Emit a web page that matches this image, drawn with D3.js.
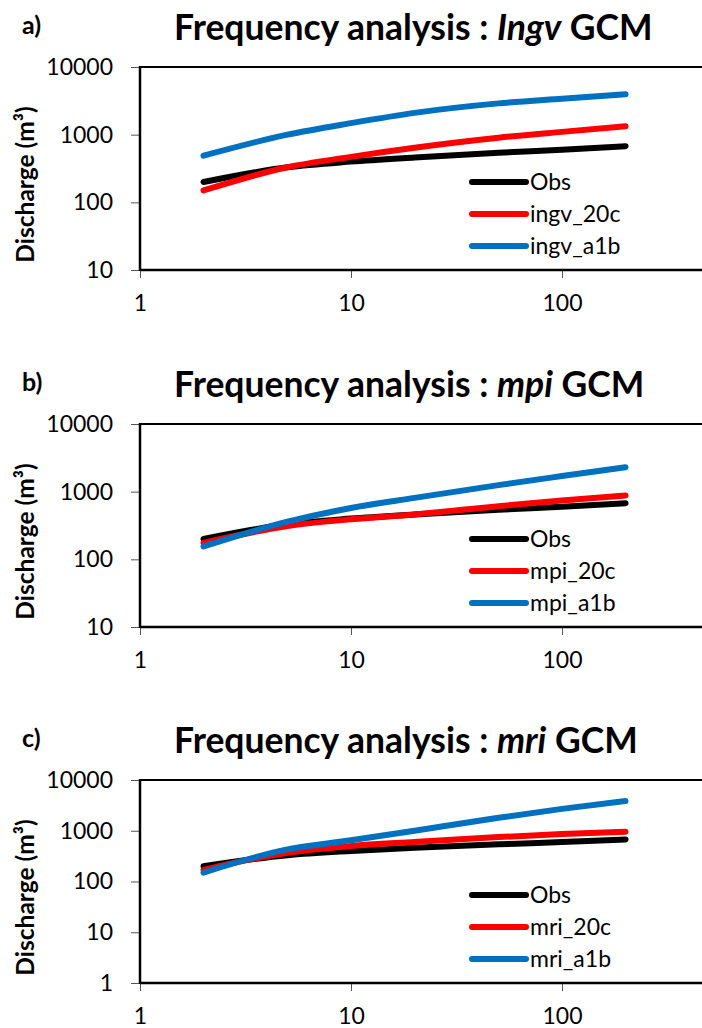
<!DOCTYPE html>
<html>
<head>
<meta charset="utf-8">
<script src="https://cdn.jsdelivr.net/npm/d3@7"></script>
<style>
  body { margin: 0; background: #fff; }
  svg { display: block; font-family: Lato, "Open Sans", sans-serif; }
</style>
</head>
<body>
<svg id="chart" width="702" height="1028"></svg>
<script>
// return periods (years)
var returnPeriods = [2, 5, 10, 20, 50, 100, 200];
var xTicks = [1, 10, 100];

// observed discharge, same in every panel
var obs = [200, 330, 400, 460, 540, 600, 675];

var ingv20c = [150, 330, 470, 640, 900, 1100, 1330];
var ingvA1b = [490, 1000, 1480, 2100, 2900, 3400, 3950];

var mpi20c = [175, 310, 390, 460, 610, 740, 880];
var mpiA1b = [155, 360, 575, 810, 1250, 1700, 2300];

var mri20c = [170, 370, 500, 600, 750, 860, 960];
var mriA1b = [150, 430, 650, 1000, 1800, 2700, 3850];

var panelLetters = ["a)", "b)", "c)"];
var gcmNames = ["Ingv", "mpi", "mri"];
var seriesNames = [["Obs", "ingv_20c", "ingv_a1b"], ["Obs", "mpi_20c", "mpi_a1b"], ["Obs", "mri_20c", "mri_a1b"]];
var seriesValues = [[obs, ingv20c, ingvA1b], [obs, mpi20c, mpiA1b], [obs, mri20c, mriA1b]];
var yDomains = [[10, 10000], [10, 10000], [1, 10000]];
var colors = ["#000000", "#ff0000", "#0070c0"];

var svg = d3.select("#chart");

var left = 140, decade = 211;
var tops = [67, 424, 780], plotH = 203;

var x = d3.scaleLog().domain([1, 1000]).range([left, left + 3 * decade]);

panelLetters.forEach(function(letter, i){
	var top = tops[i], bottom = top + plotH;
	var g = svg.append("g");

	var yd = yDomains[i];
	var yTicks = [];
	for (var v = yd[0]; v <= yd[1]; v *= 10) yTicks.push(v);

	var y = d3.scaleLog().domain(yd).range([bottom, top]);

	// y axis
	var yAxis = d3.axisLeft(y).tickValues(yTicks).tickFormat(d3.format("d")).tickSize(9).tickPadding(18);
	var ya = g.append("g").attr("transform", "translate(" + left + ",0)").call(yAxis);
	ya.select(".domain").remove();
	ya.selectAll("line").attr("stroke", "#555");
	ya.selectAll("text").attr("font-size", 23).attr("font-family", "Lato, sans-serif").attr("fill", "#000");

	// x axis
	var xAxis = d3.axisBottom(x).tickValues(xTicks).tickFormat(d3.format("d")).tickSize(8).tickPadding(17);
	var xa = g.append("g").attr("transform", "translate(0," + bottom + ")").call(xAxis);
	xa.select(".domain").remove();
	xa.selectAll("line").attr("stroke", "#555");
	xa.selectAll("text").attr("font-size", 23).attr("font-family", "Lato, sans-serif").attr("fill", "#000");

	// plot frame
	g.append("line").attr("x1", left).attr("x2", 702).attr("y1", top).attr("y2", top)
		.attr("stroke", "#000").attr("stroke-width", 2);
	g.append("line").attr("x1", left).attr("x2", 702).attr("y1", bottom).attr("y2", bottom)
		.attr("stroke", "#000").attr("stroke-width", 2.5);
	g.append("line").attr("x1", left).attr("x2", left).attr("y1", top - 1).attr("y2", bottom + 1)
		.attr("stroke", "#000").attr("stroke-width", 2.5);

	// series
	var line = d3.line()
		.x(function(d){ return x(d[0]); })
		.y(function(d){ return y(d[1]); })
		.curve(d3.curveMonotoneX);

	seriesValues[i].forEach(function(vals, k){
		var pts = returnPeriods.map(function(p, j){ return [p, vals[j]]; });
		g.append("path").datum(pts).attr("d", line)
			.attr("fill", "none").attr("stroke", colors[k]).attr("stroke-width", 6)
			.attr("stroke-linecap", "round").attr("stroke-linejoin", "round");
	});

	// legend
	seriesNames[i].forEach(function(name, k){
		var ly = top + 115 + k * 32;
		g.append("line").attr("x1", 472).attr("x2", 526).attr("y1", ly).attr("y2", ly)
			.attr("stroke", colors[k]).attr("stroke-width", 6).attr("stroke-linecap", "round");
		g.append("text").attr("x", 530).attr("y", ly).attr("dy", "0.35em")
			.attr("font-size", 23).text(name);
	});

	// title
	var t = g.append("text").attr("x", 174).attr("y", top - 27.5)
		.attr("font-size", 35.5).attr("font-weight", "bold");
	t.append("tspan").text("Frequency analysis : ");
	t.append("tspan").attr("font-style", "italic").text(gcmNames[i]);
	t.append("tspan").text(" GCM");

	// panel letter
	g.append("text").attr("x", 22).attr("y", top - 33)
		.attr("font-size", 25).attr("font-weight", "bold").text(letter);

	// y label
	g.append("text").attr("transform", "translate(34," + ((top + bottom) / 2 + 16) + ") rotate(-90)")
		.attr("text-anchor", "middle").attr("font-size", 24.5).attr("font-weight", "bold")
		.text("Discharge (m³)");
});
</script>
</body>
</html>
